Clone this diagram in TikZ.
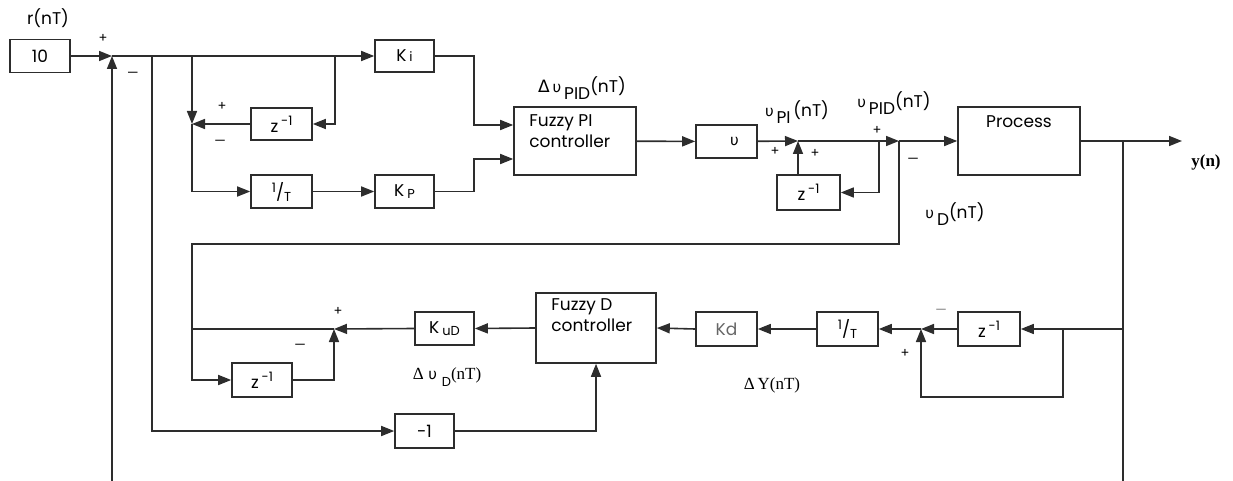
\documentclass[tikz,border=0pt]{standalone}
\usepackage{fontspec}
\setmainfont{Poppins}
\newfontfamily\gk{DejaVu Sans}
\newfontfamily\sr{Liberation Serif}
\usetikzlibrary{arrows.meta}
\definecolor{wire}{RGB}{45,45,45}
\newcommand{\sm}{\fontsize{13}{13}\selectfont}
\newcommand{\ups}{{\gk\fontsize{15}{15}\selectfont υ}}
\newcommand{\zinv}{z\,\raisebox{7pt}{\sm -1}}
\newcommand{\oneT}{\raisebox{6pt}{\sm 1}/\raisebox{-3pt}{\sm T}}
\tikzset{
  blk/.style={rectangle, draw=wire, line width=1.6pt, inner sep=0pt,
              font=\fontsize{17}{20}\selectfont},
  arr/.style={-{Triangle[length=13pt,width=10pt]}, line width=1.6pt, wire},
  ln/.style={line width=1.6pt, draw=wire},
  sgn/.style={font=\fontsize{13}{13}\selectfont, inner sep=0pt},
  lbl/.style={font=\fontsize{17}{21}\selectfont, inner sep=0pt},
}
\begin{document}
\begin{tikzpicture}[x=1pt, y=-1pt]
\useasboundingbox (0,0) rectangle (1233,481);
% blocks, upper branch
\node[blk, minimum width=60, minimum height=33] (ten) at (40,56) {10};
\node[blk, minimum width=59, minimum height=32] (Ki) at (404.5,56) {K\,\sm i};
\node[blk, minimum width=61, minimum height=32] (zI) at (281.5,124) {\zinv};
\node[blk, minimum width=61, minimum height=33] (invT) at (281.5,191.5) {\oneT};
\node[blk, minimum width=59, minimum height=33] (Kp) at (404.5,191.5) {K\,\raisebox{-2pt}{\sm P}};
\node[blk, minimum width=122, minimum height=68,
      label={[lbl, anchor=north west, align=left, xshift=16pt, yshift=-8pt]north west:Fuzzy PI\\controller}]
      (fpi) at (575,141) {};
\node[blk, minimum width=61, minimum height=33] (u) at (726.5,141.5) {\hspace{16pt}\ups};
\node[blk, minimum width=63, minimum height=35] (zP) at (808.5,192.5) {\zinv};
\node[blk, minimum width=122, minimum height=68,
      label={[lbl, anchor=north, yshift=-9pt]north:Process}]
      (proc) at (1019,141) {};
% blocks, lower branch
\node[blk, minimum width=60, minimum height=34] (zD) at (262,380) {\zinv};
\node[blk, minimum width=59, minimum height=33] (Kud) at (444.5,328.5) {K\,\raisebox{-2pt}{\sm uD}};
\node[blk, minimum width=120, minimum height=70,
      label={[lbl, anchor=north west, align=left, xshift=16pt, yshift=-6pt]north west:Fuzzy D\\controller}]
      (fd) at (596,328) {};
\node[blk, minimum width=61, minimum height=34, text=black!60] (kd) at (726.5,329) {Kd};
\node[blk, minimum width=61, minimum height=34] (invT2) at (847.5,329) {\oneT};
\node[blk, minimum width=62, minimum height=34] (zY) at (989,329) {\zinv};
\node[blk, minimum width=59, minimum height=34] (neg) at (424.5,431) {-1};

% summing points and branch points
\coordinate (s1) at (112,56);
\coordinate (s2) at (192,124);
\coordinate (s3) at (798,141);
\coordinate (s4) at (899,141);
\coordinate (s5) at (334,329);
\coordinate (s6) at (921,329);
\coordinate (b1) at (152,56);
\coordinate (b2) at (192,56);
\coordinate (b3) at (335,56);
\coordinate (b4) at (879,141);
\coordinate (b5) at (1123,141);
\coordinate (b6) at (1123,329);
\coordinate (b7) at (1063,329);
\coordinate (c1) at (192,244);
\coordinate (c2) at (921,397);
\coordinate (fbin) at (112,481);
\coordinate (fbout) at (1123,481);
\coordinate (yout) at (1182,141);

% connectors
\draw[arr] (ten.east) -- (s1);
\draw[arr] (fbin) -- (s1);
\draw[arr] (s1) -- (Ki.west);
\draw[arr] (b1) |- (neg.west);
\draw[arr] (b2) -- (s2);
\draw[arr] (s2) |- (invT.west);
\draw[arr] (b3) |- (zI.east);
\draw[arr] (zI.west) -- (s2);
\draw[arr] (invT) -- (Kp);
\draw[arr] (Ki.east) -- ++(39,0) |- ([yshift=16pt]fpi.west);
\draw[arr] (Kp.east) -- ++(39,0) |- ([yshift=-18pt]fpi.west);
\draw[arr] (fpi) -- (u);
\draw[arr] (u) -- (s3);
\draw[arr] (zP.north -| s3) -- (s3);
\draw[arr] (b4) |- (zP.east);
\draw[arr] (s3) -- (s4);
\draw[arr] (s4) -- (proc.west);
\draw[arr] (proc.east) -- (yout);
\draw[ln] (b5) -- (fbout);
\draw[arr] (b6) -- (zY.east);
\draw[arr] (b7) |- (c2) -- (s6);
\draw[arr] (zY.west) -- (s6);
\draw[arr] (s6) -- (invT2.east);
\draw[arr] (invT2.west) -- (kd.east);
\draw[arr] (kd.west) -- (fd.east);
\draw[arr] (fd.west) -- (Kud.east);
\draw[arr] (Kud.west) -- (s5);
\draw[arr] (neg.east) -| (fd.south);
\draw[arr] (s4) |- (c1) |- (zD.west);
\draw[arr] (zD.east) -| (s5);
\draw[ln] (s5) -- (s5 -| c1);

% signs
\node[sgn] (p1) at (103,38) {+};
\node[sgn] (m1) at (133,75) {—};
\node[sgn] (p2) at (222,106) {+};
\node[sgn] (m2) at (220,143) {—};
\node[sgn] (p3) at (775,151) {+};
\node[sgn] (p4) at (815,153) {+};
\node[sgn] (p5) at (877,130) {+};
\node[sgn] (m5) at (913,161) {—};
\node[sgn] (p6) at (338,311) {+};
\node[sgn] (m6) at (300,347) {—};
\node[sgn, text=black!50] (m7) at (941,312) {—};
\node[sgn] (p7) at (905,353) {+};

% signal labels
\node[lbl] (rin) at (48,18) {r(nT)};
\node[lbl] (dupid) at (582,88) {{\gk Δ}\,\ups\,\raisebox{-7pt}{PID}(nT)};
\node[lbl] (upi) at (797,112) {\ups\,\raisebox{-7pt}{PI}\,(nT)};
\node[lbl] (upid) at (894,103) {\ups\,\raisebox{-7pt}{PID}(nT)};
\node[lbl] (ud) at (955,214) {\ups\,\raisebox{-7pt}{D}(nT)};
\node[lbl] (dud) at (447,377) {{\sr Δ}\;\ups\;\raisebox{-7pt}{\sm D}{\sr(nT)}};
\node[lbl] (dy) at (772,385) {{\sr Δ\,Y(nT)}};
\node[lbl] (yn) at (1206,162) {{\sr\bfseries y(n)}};
\end{tikzpicture}
\end{document}
